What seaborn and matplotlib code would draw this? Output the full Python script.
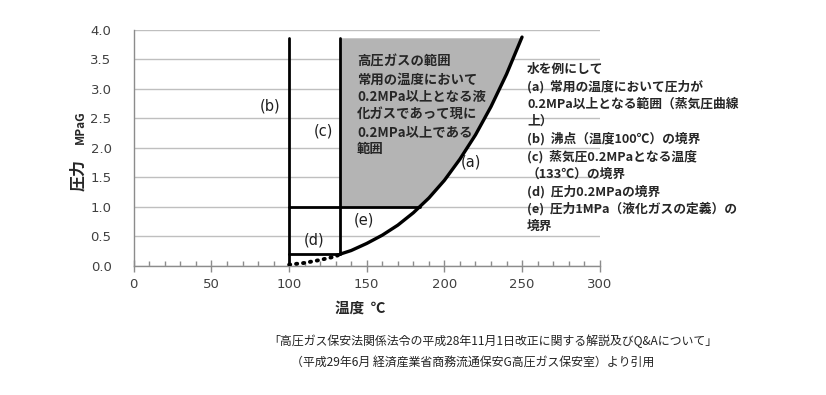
import numpy as np
import pandas as pd
import matplotlib.pyplot as plt
import seaborn as sns
from matplotlib.ticker import MultipleLocator, FormatStrFormatter

sns.set_theme(style="white")
plt.rcParams['font.family'] = ['Noto Sans CJK JP', 'DejaVu Sans']

# 水の蒸気圧曲線（ゲージ圧 MPa）
temp_solid = [133, 140, 150, 160, 170, 180, 190, 200, 210, 220, 230, 240, 250]
press_solid = [0.20, 0.26, 0.38, 0.52, 0.69, 0.90, 1.15, 1.45, 1.81, 2.22, 2.70, 3.25, 3.88]
temp_dot = [100, 110, 120, 130, 133]
press_dot = [0.02, 0.05, 0.10, 0.16, 0.20]

boil_t = 100      # (b) 沸点
t_02 = 133        # (c) 蒸気圧0.2MPaの温度
p_low = 0.2       # (d)
p_gas = 1.0       # (e)
p_top = 3.86

gray_text = ["高圧ガスの範囲", "常用の温度において", "0.2MPa以上となる液",
             "化ガスであって現に", "0.2MPa以上である", "範囲"]
note_text = ["水を例にして", "(a)  常用の温度において圧力が", "0.2MPa以上となる範囲（蒸気圧曲線",
             "上）", "(b)  沸点（温度100℃）の境界", "(c)  蒸気圧0.2MPaとなる温度",
             "（133℃）の境界", "(d)  圧力0.2MPaの境界", "(e)  圧力1MPa（液化ガスの定義）の", "境界"]
caption = ["「高圧ガス保安法関係法令の平成28年11月1日改正に関する解説及びQ&Aについて」",
           "（平成29年6月 経済産業省商務流通保安G高圧ガス保安室）より引用"]

solid = pd.DataFrame({"t": temp_solid, "p": press_solid})
dot = pd.DataFrame({"t": temp_dot, "p": press_dot})

fig = plt.figure(figsize=(8.26, 3.95), dpi=100)
ax = fig.add_axes([0.162, 0.327, 0.564, 0.597])

# gray region (left of the curve, above 1 MPa)
t_gas = np.interp(p_gas, press_solid, temp_solid)
t_top = np.interp(p_top, press_solid, temp_solid)
inside = [(t, p) for t, p in zip(temp_solid, press_solid) if p_gas < p < p_top]
poly = [(t_02, p_gas), (t_02, p_top), (t_top, p_top)] + inside[::-1] + [(t_gas, p_gas)]
ax.fill(*zip(*poly), color="#b4b4b4", lw=0, zorder=1)

sns.lineplot(data=solid, x="t", y="p", color="black", lw=2.4, ax=ax, zorder=4)
sns.lineplot(data=dot, x="t", y="p", color="black", lw=2.8, ax=ax, zorder=4,
             linestyle=(0, (0.3, 1.5)), dash_capstyle="round")

ax.plot([boil_t, boil_t], [0, p_top], color="black", lw=2, zorder=3)
ax.plot([t_02, t_02], [p_low, p_top], color="black", lw=2, zorder=3)
ax.plot([boil_t, t_02], [p_low, p_low], color="black", lw=2, zorder=3)
ax.plot([boil_t, t_gas], [p_gas, p_gas], color="black", lw=2, zorder=3)

ax.set_xlim(0, 300)
ax.set_ylim(0, 4.0)
ax.xaxis.set_major_locator(MultipleLocator(50))
ax.xaxis.set_minor_locator(MultipleLocator(10))
ax.yaxis.set_major_locator(MultipleLocator(0.5))
ax.yaxis.set_major_formatter(FormatStrFormatter("%.1f"))
ax.grid(axis="y", color="#bfbfbf", lw=1)
ax.set_axisbelow(True)
for s in ["top", "right"]:
    ax.spines[s].set_visible(False)
for s in ["left", "bottom"]:
    ax.spines[s].set_color("#8c8c8c")
    ax.spines[s].set_linewidth(1)
ax.tick_params(axis="x", which="major", direction="inout", length=8, width=1, bottom=True,
               color="#8c8c8c", labelsize=9.5, labelcolor="#404040", pad=5)
ax.tick_params(axis="x", which="minor", direction="in", length=3.5, width=1,
               color="#8c8c8c", bottom=True)
ax.tick_params(axis="y", length=0, labelsize=9.5, labelcolor="#404040", pad=16)
for lab in ax.get_xticklabels() + ax.get_yticklabels():
    lab.set_family("DejaVu Sans")
ax.set_xlabel("")
ax.set_ylabel("")

# labels (a)-(e)
for s, (x, y) in {"(a)": (217, 1.76), "(b)": (88, 2.71), "(c)": (122, 2.29),
                  "(d)": (116, 0.44), "(e)": (148, 0.78)}.items():
    ax.text(x, y, s, ha="center", va="center", fontsize=10.5, family="DejaVu Sans",
            color="#202020", zorder=5)

W, H = 826, 395
def ftext(px, py, s, **kw):
    fig.text(px / W, 1 - py / H, s, **kw)

for i, s in enumerate(gray_text):
    ftext(357, 62 + 17.4 * i, s, fontsize=9.6, weight="bold", va="center", ha="left")
for i, s in enumerate(note_text):
    ftext(527, 69 + 17.5 * i, s, fontsize=9.2, weight="bold", va="center", ha="left")

ftext(78, 175, "圧力", rotation=90, fontsize=11.5, weight="bold", va="center", ha="center")
ftext(80, 127, "MPaG", rotation=90, fontsize=8.5, weight="bold", va="center", ha="center")
ftext(360, 308, "温度  ℃", fontsize=10.5, weight="bold", va="center", ha="center")

ftext(493, 341, caption[0], fontsize=8.6, va="center", ha="center", color="#222222")
ftext(473, 362, caption[1], fontsize=8.6, va="center", ha="center", color="#222222")

fig.savefig("out.png", dpi=100)
